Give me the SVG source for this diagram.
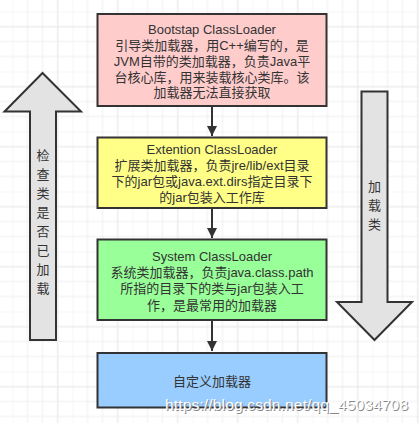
<svg xmlns="http://www.w3.org/2000/svg" width="419" height="423" viewBox="0 0 419 423">
<defs>
<pattern id="grid" x="12.5" y="11.5" width="60" height="60" patternUnits="userSpaceOnUse">
<path d="M0 0V60M15 0V60M30 0V60M45 0V60M0 0H60M0 15H60M0 30H60M0 45H60" stroke="#efefef" stroke-width="1" fill="none"/>
</pattern>
<pattern id="gridmaj" x="57.5" y="26.5" width="60" height="60" patternUnits="userSpaceOnUse">
<path d="M0 0V60M0 0H60" stroke="#e3e3e3" stroke-width="1" fill="none"/>
</pattern>
<marker id="ah" viewBox="0 0 10 16" refX="10" refY="8" markerWidth="10" markerHeight="16" markerUnits="userSpaceOnUse" orient="auto">
<path d="M0 3L10 8L0 13Z" fill="#333"/>
</marker>
<style>
.box{stroke:#333;stroke-width:2}
.t{font-family:"Liberation Sans","Noto Sans CJK SC",sans-serif;font-size:13px;fill:#333;text-anchor:middle}
.big{stroke:#333;stroke-width:2;fill:#e3e3e3}
.c{stroke:#333;stroke-width:2;fill:none}
.wm{font-family:"Liberation Sans",Arial,sans-serif;font-size:15.5px}
</style>
</defs>
<rect width="419" height="423" fill="#fff"/>
<rect width="419" height="423" fill="url(#grid)"/>
<rect width="419" height="423" fill="url(#gridmaj)"/>

<g id="arrow-check">
<polygon class="big" points="42.5,73 4.5,111.5 30,111.5 30,340 56,340 56,111.5 81,111.5"/>
<text class="t" x="43" y="160">检</text>
<text class="t" x="43" y="179">查</text>
<text class="t" x="43" y="198">类</text>
<text class="t" x="43" y="217">是</text>
<text class="t" x="43" y="236">否</text>
<text class="t" x="43" y="255">已</text>
<text class="t" x="43" y="274">加</text>
<text class="t" x="43" y="293">载</text>
</g>

<g id="arrow-load">
<polygon class="big" points="361.5,91.5 387.5,91.5 387.5,302 412,302 374.5,340 337,302 361.5,302"/>
<text class="t" x="374.5" y="191">加</text>
<text class="t" x="374.5" y="210">载</text>
<text class="t" x="374.5" y="229">类</text>
</g>

<g id="connectors">
<line class="c" x1="212" y1="106" x2="212" y2="136" marker-end="url(#ah)"/>
<line class="c" x1="212" y1="208" x2="212" y2="238" marker-end="url(#ah)"/>
<line class="c" x1="212" y1="320" x2="212" y2="351" marker-end="url(#ah)"/>
</g>

<g id="bootstrap">
<rect class="box" x="97.5" y="14" width="229" height="92" fill="#ffcccc"/>
<text class="t" x="212" y="34">Bootstap ClassLoader</text>
<text class="t" x="212" y="50">引导类加载器，用C++编写的，是</text>
<text class="t" x="212" y="66">JVM自带的类加载器，负责Java平</text>
<text class="t" x="212" y="81.5">台核心库，用来装载核心类库。该</text>
<text class="t" x="212" y="97">加载器无法直接获取</text>
</g>

<g id="extention">
<rect class="box" x="97.5" y="137.5" width="229" height="70.5" fill="#ffff88"/>
<text class="t" x="212" y="154">Extention ClassLoader</text>
<text class="t" x="212" y="170">扩展类加载器，负责jre/lib/ext目录</text>
<text class="t" x="212" y="185.5">下的jar包或java.ext.dirs指定目录下</text>
<text class="t" x="212" y="201.5">的jar包装入工作库</text>
</g>

<g id="system">
<rect class="box" x="97.5" y="239.5" width="229" height="80.5" fill="#99ff99"/>
<text class="t" x="212" y="261">System ClassLoader</text>
<text class="t" x="212" y="276.5">系统类加载器，负责java.class.path</text>
<text class="t" x="212" y="293">所指的目录下的类与jar包装入工</text>
<text class="t" x="212" y="309.5">作，是最常用的加载器</text>
</g>

<g id="custom">
<rect class="box" x="97.5" y="353" width="229" height="54.5" fill="#99ccff"/>
<text class="t" x="212" y="385.5">自定义加载器</text>
</g>

<text class="wm" x="166" y="410.5" fill="#888" textLength="243">https://blog.csdn.net/qq_45034708</text>
<text class="wm" x="165" y="409.5" fill="#fff" textLength="243">https://blog.csdn.net/qq_45034708</text>
</svg>
